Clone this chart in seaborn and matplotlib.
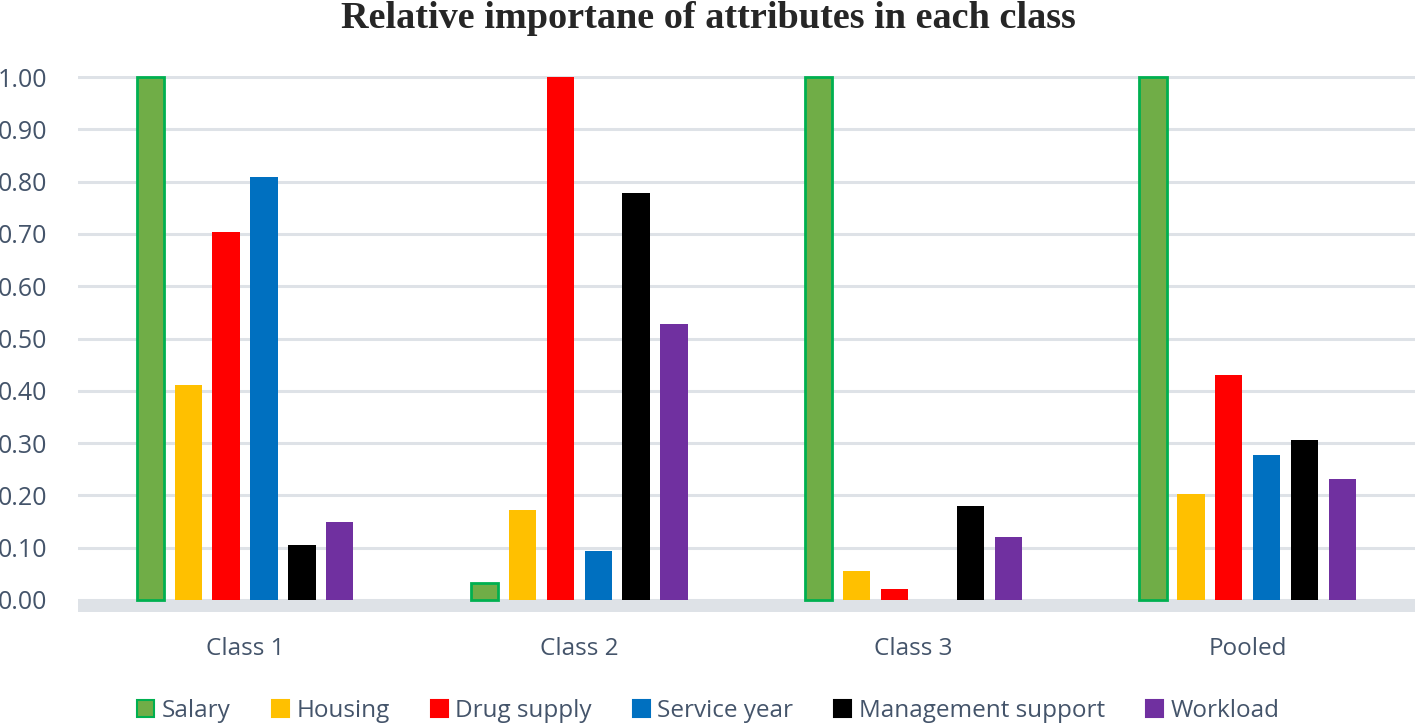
import matplotlib
matplotlib.use("Agg")
import matplotlib.pyplot as plt
import seaborn as sns
import pandas as pd
from matplotlib.patches import Patch

# values
classes = ['Class 1', 'Class 2', 'Class 3', 'Pooled']
attributes = ['Salary', 'Housing', 'Drug supply', 'Service year',
              'Management support', 'Workload']
salary = [1.00, 0.033, 1.00, 1.00]
housing = [0.412, 0.172, 0.055, 0.202]
drug_supply = [0.703, 1.00, 0.021, 0.431]
service_year = [0.809, 0.093, 0.0, 0.277]
management = [0.106, 0.779, 0.180, 0.305]
workload = [0.149, 0.527, 0.121, 0.231]
colors = ['#70AD47', '#FFC000', '#FF0000', '#0070C0', '#000000', '#7030A0']

series = [salary, housing, drug_supply, service_year, management, workload]
rows = []
for attr, vals in zip(attributes, series):
    for cls, v in zip(classes, vals):
        rows.append({'cls': cls, 'attr': attr, 'value': v})
df = pd.DataFrame(rows)

sns.set_style('white')
plt.rcParams['font.family'] = ['Open Sans', 'DejaVu Sans']
text_col = '#44546A'
grid_col = '#DEE2E7'

fig = plt.figure(figsize=(14.17, 7.23), dpi=100)
ax = fig.add_axes([0.055, 0.1535, 0.9435, 0.7414])

sns.barplot(data=df, x='cls', y='value', hue='attr', order=classes,
            hue_order=attributes, palette=colors, width=0.68, gap=0.28,
            saturation=1, linewidth=0, legend=False, ax=ax, zorder=3)

# green outline on the Salary bars
for bar in ax.patches[:len(classes)]:
    bar.set_edgecolor('#00B050')
    bar.set_linewidth(2)

ax.set_ylim(-0.023, 1.002)
ax.set_xlim(-0.5, 3.5)
ax.set_yticks([i / 10 for i in range(11)])
ax.set_yticklabels([f'{i / 10:.2f}' for i in range(11)])
ax.yaxis.grid(True, color=grid_col, linewidth=2.2, zorder=0)
ax.set_axisbelow(True)
for s in ax.spines.values():
    s.set_visible(False)
# thick grey base band under the zero line
ax.axhspan(-0.023, 0, color=grid_col, zorder=2, linewidth=0)
ax.set_xlabel('')
ax.set_ylabel('')
ax.tick_params(axis='y', length=0, labelsize=18, labelcolor=text_col, pad=22)
ax.tick_params(axis='x', length=0, labelsize=17.5, labelcolor=text_col, pad=18)

fig.suptitle('Relative importane of attributes in each class',
             fontfamily='Liberation Serif', fontweight='bold', fontsize=27.5,
             y=0.998)

handles = []
for attr, c in zip(attributes, colors):
    ec = '#00B050' if attr == 'Salary' else c
    handles.append(Patch(facecolor=c, edgecolor=ec, linewidth=1.5))
leg = fig.legend(handles, attributes, loc='lower center', ncol=6,
                 bbox_to_anchor=(0.5, -0.03), frameon=False, fontsize=17.5,
                 handlelength=0.7, handleheight=0.7, handletextpad=0.3,
                 columnspacing=1.7)
for t in leg.get_texts():
    t.set_color(text_col)

fig.savefig('out.png', dpi=100)
